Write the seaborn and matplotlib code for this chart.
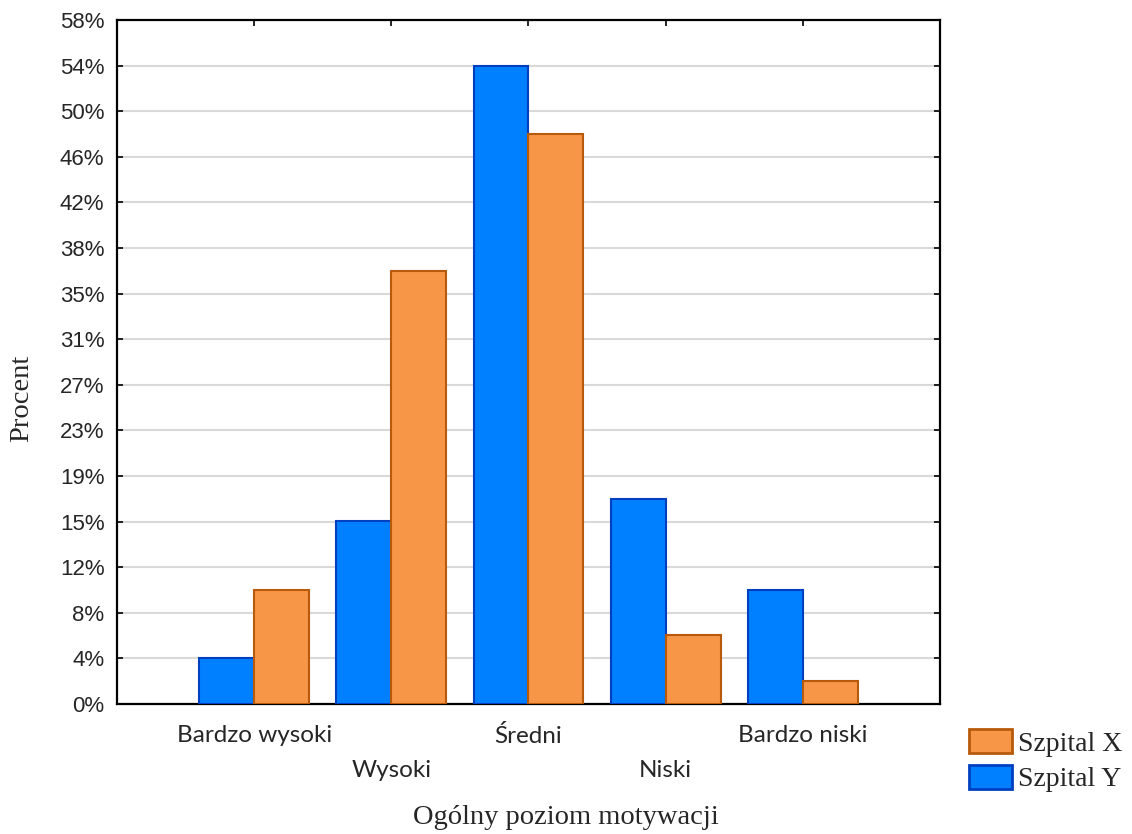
import numpy as np
import pandas as pd
import matplotlib
matplotlib.use("Agg")
import matplotlib.pyplot as plt
import seaborn as sns
from matplotlib.patches import Patch

# data (percent of respondents)
categories = ["Bardzo wysoki", "Wysoki", "Średni", "Niski", "Bardzo niski"]
szpital_y = [3.85, 15.4, 53.8, 17.3, 9.6]
szpital_x = [9.6, 36.5, 48.1, 5.8, 1.9]
tick_values = [k * 100 / 26 for k in range(16)]
tick_labels = [f"{round(v)}%" for v in tick_values]

df = pd.DataFrame({
    "kategoria": categories * 2,
    "szpital": ["Szpital Y"] * 5 + ["Szpital X"] * 5,
    "procent": szpital_y + szpital_x,
})

sns.set_style("white")
face = {"Szpital Y": "#007FFF", "Szpital X": "#F79646"}
edge = {"Szpital Y": "#0040C0", "Szpital X": "#B85A0C"}

fig = plt.figure(figsize=(11.32, 8.34), dpi=100)
ax = fig.add_axes([117 / 1132, 1 - 704 / 834, (940 - 117) / 1132, (704 - 20) / 834])

sns.barplot(data=df, x="kategoria", y="procent", hue="szpital",
            hue_order=["Szpital Y", "Szpital X"], palette=face,
            width=0.8, saturation=1, ax=ax, legend=False, zorder=3)

# edges per hue
for cont, name in zip(ax.containers, ["Szpital Y", "Szpital X"]):
    for bar in cont:
        bar.set_edgecolor(edge[name])
        bar.set_linewidth(1.5)

ax.set_xlim(-1, 5)
ax.set_ylim(0, tick_values[-1])
ax.set_yticks(tick_values)
ax.set_yticklabels(tick_labels, fontfamily="Liberation Sans", fontsize=16)
ax.yaxis.grid(True, color="#D9D9D9", linewidth=1.5, zorder=0)
ax.set_axisbelow(True)
ax.set_xlabel("")
ax.set_ylabel("")

ax.set_xticks(range(len(categories)))
ax.set_xticklabels(categories, fontfamily="Lato", fontsize=17.5)
for i, t in enumerate(ax.xaxis.get_major_ticks()):
    t.set_pad(15 if i % 2 == 0 else 40)

ax.tick_params(axis="both", direction="in", length=4, width=1.2, color="black",
               top=True, right=True, bottom=True, left=True)
ax.tick_params(axis="y", pad=9)
for s in ax.spines.values():
    s.set_visible(True)
    s.set_color("black")
    s.set_linewidth(1.6)

fig.text(22 / 1132, 1 - 398 / 834, "Procent", rotation=90, ha="center", va="center",
         fontfamily="Liberation Serif", fontsize=20.5)
fig.text(0.5, 1 - 818 / 834, "Ogólny poziom motywacji", ha="center", va="center",
         fontfamily="Liberation Serif", fontsize=20.5)

handles = [Patch(facecolor=face["Szpital X"], edgecolor=edge["Szpital X"], linewidth=2),
           Patch(facecolor=face["Szpital Y"], edgecolor=edge["Szpital Y"], linewidth=2)]
fig.legend(handles, ["Szpital X", "Szpital Y"], loc="upper left",
           bbox_to_anchor=(969 / 1132, 1 - 729 / 834), frameon=False,
           prop={"family": "Liberation Serif", "size": 20},
           handlelength=1.55, handleheight=0.95, handletextpad=0.2,
           labelspacing=0.3, borderaxespad=0, borderpad=0)

fig.savefig("out.png", dpi=100)
